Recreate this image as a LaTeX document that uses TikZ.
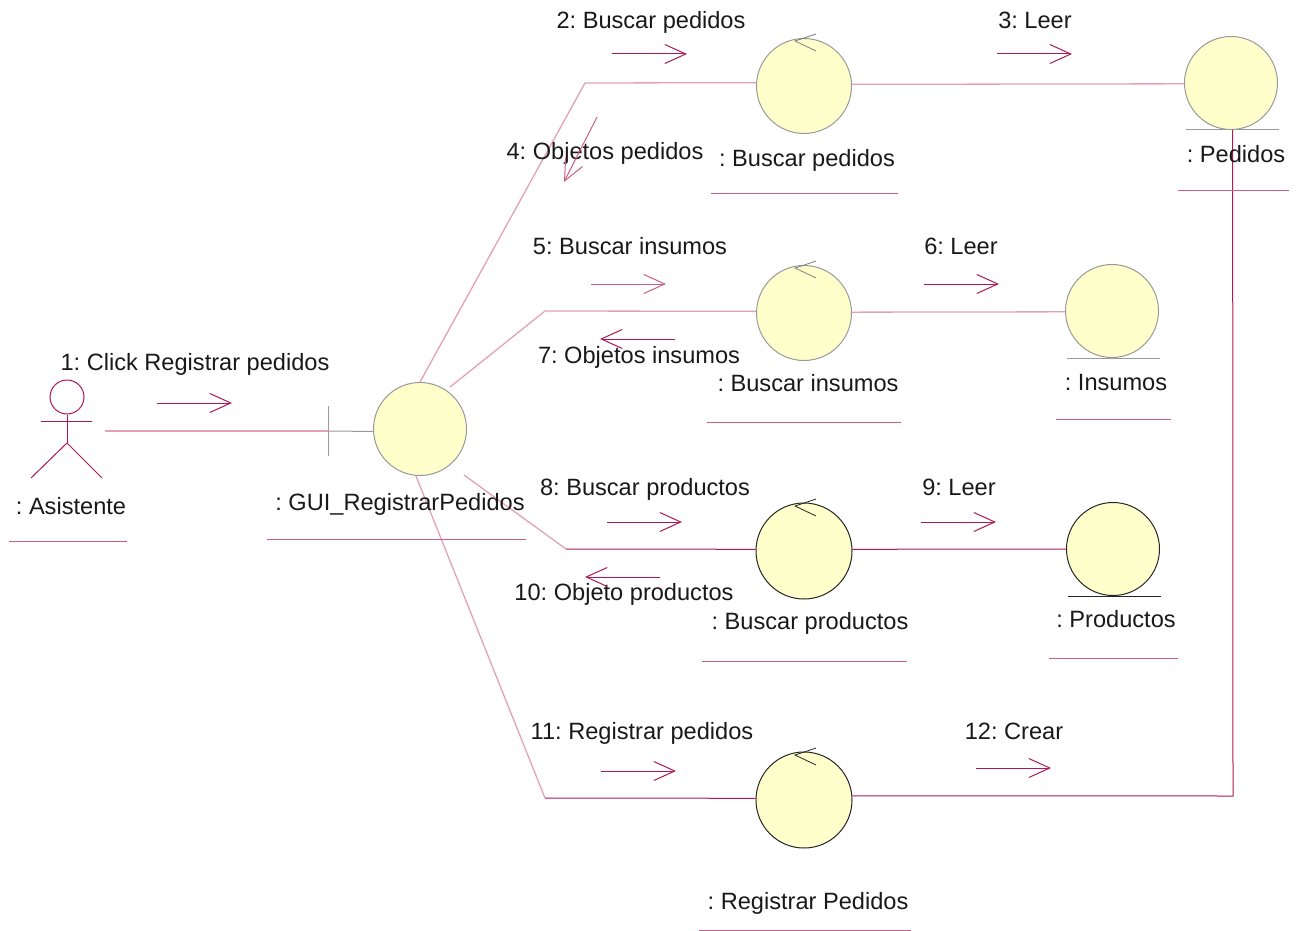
\documentclass[tikz,border=0pt]{standalone}
\usepackage{fontspec}
\setmainfont{Liberation Sans}
\usetikzlibrary{arrows.meta}
\definecolor{rosedark}{RGB}{172,24,84}
\definecolor{rosepale}{RGB}{228,160,185}
\definecolor{rosemid}{RGB}{200,95,135}
\definecolor{fillobj}{RGB}{255,255,204}
\tikzset{
  obj/.style={circle,draw=black!40,fill=fillobj,line width=1pt,inner sep=0pt,minimum size=93pt},
  objdark/.style={obj,draw=black!85,minimum size=96pt},
  objname/.style={font=\fontsize{23.6}{28}\selectfont\frenchspacing,text=black!90,inner sep=0pt,text height=17pt,text depth=0pt},
  msg/.style={objname},
  link/.style={draw=rosepale,line width=1.3pt},
  linkdark/.style={draw=rosedark,line width=1pt},
  under/.style={draw=rosemid,line width=1pt},
  sendarrow/.style={draw=rosedark,line width=1pt,-{Straight Barb[length=21pt,width=19pt]}},
  palearrow/.style={sendarrow,draw=rosemid},
  actorline/.style={draw=rosedark,line width=1pt}
}
\begin{document}
\begin{tikzpicture}[x=1pt,y=-1pt]
      \useasboundingbox (0,0) rectangle (1303,931);

      \coordinate (m1a) at (157,403);   \coordinate (m1b) at (232,403);
      \coordinate (m2a) at (612,54);    \coordinate (m2b) at (687,54);
      \coordinate (m3a) at (997,54);    \coordinate (m3b) at (1072,54);
      \coordinate (m4a) at (597,117);   \coordinate (m4b) at (564,182);
      \coordinate (m5a) at (591,284);   \coordinate (m5b) at (666,284);
      \coordinate (m6a) at (924,284);   \coordinate (m6b) at (999,284);
      \coordinate (m7a) at (675,339);   \coordinate (m7b) at (600,339);
      \coordinate (m8a) at (607,522);   \coordinate (m8b) at (682,522);
      \coordinate (m9a) at (921,522);   \coordinate (m9b) at (996,522);
      \coordinate (m10a) at (660,577);  \coordinate (m10b) at (585,577);
      \coordinate (m11a) at (601,771);  \coordinate (m11b) at (676,771);
      \coordinate (m12a) at (976,768);  \coordinate (m12b) at (1051,768);

      \coordinate (bend1) at (585,83);
      \coordinate (bend2) at (545,311);
      \coordinate (bend3) at (566,549);
      \coordinate (bend4) at (545,798);
      \coordinate (bend5) at (1233,796);
      \coordinate (free1) at (105,431);
      \coordinate (tick1) at (328,406);
      \coordinate (tick2) at (328,456);
      \coordinate (tick3) at (328,431);

      % objects
      \node[obj]     (gui) at (420,429)  {};
      \node[obj,minimum size=95pt] (bped) at (804,86)  {};
      \node[obj]     (ped) at (1231,83)  {};
      \node[obj,minimum size=95pt] (bins) at (804,313) {};
      \node[obj]     (ins) at (1112,311) {};
      \node[objdark] (bpro) at (804,551) {};
      \node[objdark,minimum size=93pt] (pro) at (1113,549) {};
      \node[objdark] (reg) at (804,800)  {};

      % actor
      \node[circle,draw=rosedark,line width=1pt,inner sep=0pt,minimum size=34pt] (head) at (67,397) {};
      \coordinate (arml) at (41,421);
      \coordinate (armr) at (92,421);
      \coordinate (hip) at (67,443);
      \coordinate (legl) at (31,478);
      \coordinate (legr) at (102,478);
      \draw[actorline] (arml) -- (armr);
      \draw[actorline] (head) -- (hip);
      \draw[actorline] (legl) -- (hip) -- (legr);

      % links
      \draw[link] (free1) -- (tick3);
      \draw[draw=black!40,line width=1pt] (tick1) -- (tick2);
      \draw[draw=black!40,line width=1pt] (tick3) -- (gui.-177);
      \draw[link] (gui.north) -- (bend1) -- (bped.176);
      \draw[link,shorten <=5pt] (gui.56) -- (bend2) -- (bins.178);
      \draw[link,shorten <=17pt] (gui.-50) -- (bend3);
      \draw[linkdark] (bend3) -- (bpro.178);
      \draw[link] (gui.-95) -- (bend4);
      \draw[linkdark] (bend4) -- (reg.178);
      \draw[link] (bped.2) -- (ped.181);
      \draw[link] (bins.1) -- (ins.181);
      \draw[linkdark] (bpro.2) -- (pro.west);
      \draw[linkdark] (reg.5) -- (bend5) -- (ped.-88);

      % control and entity marks
      \foreach \n/\c in {bped/black!50,bins/black!50,bpro/black!85,reg/black!85}
        \draw[draw=\c,line width=.8pt] ([shift={(12,-52)}]\n.center) -- ([shift={(-9,-45)}]\n.center) -- ([shift={(12,-35)}]\n.center);
      \foreach \n/\c in {ped/black!40,ins/black!40,pro/black!85}
        \draw[draw=\c,line width=1pt] ([shift={(-45,47)}]\n.center) -- ([shift={(48,47)}]\n.center);

      % names
      \node[objname] (nasi) at (71,506)    {: Asistente};
      \node[objname] (ngui) at (400,502)   {: GUI\_RegistrarPedidos};
      \node[objname] (nbped) at (807,158)  {: Buscar pedidos};
      \node[objname] (nped) at (1236,154)  {: Pedidos};
      \node[objname] (nbins) at (808,383)  {: Buscar insumos};
      \node[objname] (nins) at (1116,382)  {: Insumos};
      \node[objname] (nbpro) at (810,621)  {: Buscar productos};
      \node[objname] (npro) at (1116,619)  {: Productos};
      \node[objname] (nreg) at (808,901)   {: Registrar Pedidos};

      \foreach \a/\b/\y in {9/127/541,267/526/539,711/898/193,1178/1289/190,707/901/422,1056/1171/419,702/907/661,1049/1178/658,699/911/930}
        \draw[under] (\a,\y) -- (\b,\y);

      % messages
      \node[msg] (t1) at (195,362)   {1: Click Registrar pedidos};
      \node[msg] (t2) at (651,20)    {2: Buscar pedidos};
      \node[msg] (t3) at (1035,20)   {3: Leer};
      \node[msg] (t4) at (605,151)   {4: Objetos pedidos};
      \node[msg] (t5) at (630,246)   {5: Buscar insumos};
      \node[msg] (t6) at (961,246)   {6: Leer};
      \node[msg] (t7) at (639,355)   {7: Objetos insumos};
      \node[msg] (t8) at (645,487)   {8: Buscar productos};
      \node[msg] (t9) at (959,487)   {9: Leer};
      \node[msg] (t10) at (624,592)  {10: Objeto productos};
      \node[msg] (t11) at (642,731)  {11: Registrar pedidos};
      \node[msg] (t12) at (1014,731) {12: Crear};

      \foreach \m in {1,2,3,6,7,8,9,10,11,12}
        \draw[sendarrow] (m\m a) -- (m\m b);
      \draw[palearrow] (m4a) -- (m4b);
      \draw[palearrow] (m5a) -- (m5b);
\end{tikzpicture}
\end{document}
